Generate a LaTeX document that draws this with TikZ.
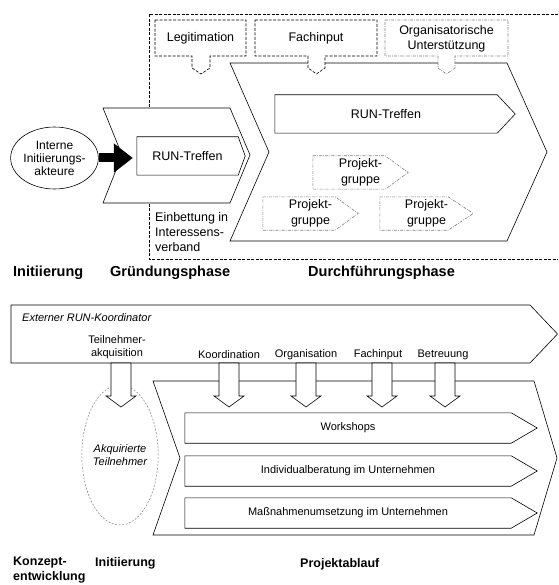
\documentclass[tikz,border=0pt]{standalone}
\usepackage{fontspec}
\setmainfont{Liberation Sans}
\usetikzlibrary{arrows.meta,shapes.geometric}

% Pfeilform um einen Knoten: Knick und Spitze relativ zu north east / east
\newcommand{\spitze}[4][]{%
  \draw[rand,#1] (#2.north west) -- ([xshift=#3]#2.north east) -- ([xshift=#4]#2.east)
    -- ([xshift=#3]#2.south east) -- (#2.south west) -- cycle;}

\begin{document}
\begin{tikzpicture}[x=1pt,y=-1pt,
    rand/.style={line width=0.6pt},
    box/.style={rand, fill=white},
    gestrichelt/.style={rand, dash pattern=on 3pt off 1.5pt, fill=white},
    grau/.style={draw=gray, line width=0.6pt, dash pattern=on 3pt off 1.2pt on 0.8pt off 1.2pt, fill=white},
    txt/.style={font=\fontsize{12.5}{15}\selectfont, align=center, inner sep=0pt},
    txtk/.style={font=\fontsize{11}{12.5}\selectfont, align=center, inner sep=0pt},
    phase/.style={font=\bfseries\fontsize{14.5}{17}\selectfont, anchor=west, inner sep=0pt},
    phasek/.style={font=\bfseries\fontsize{12.5}{15}\selectfont, anchor=west, align=left, inner sep=0pt},
  ]
\useasboundingbox (0,0) rectangle (558,585);

% oberes Bild: Gruendung und Durchfuehrung
\draw[rand, dash pattern=on 3pt off 1.5pt] (558,14) -- (149,14) -- (149,259) -- (558,259);
\draw[box] (230,63) -- (507,63) -- (547,152) -- (507,241) -- (230,241) -- (269,152) -- cycle;
\draw[box] (103,108) -- (230,108) -- (250,155) -- (230,203) -- (103,203) -- (122,155) -- cycle;

\draw[gestrichelt] (155,20) -- (246,20) -- (246,56) -- (210,56) -- (210,68) -- (201,74)
    -- (192,68) -- (192,56) -- (155,56) -- cycle;
\draw[gestrichelt] (255,20) -- (377,20) -- (377,56) -- (325,56) -- (325,68) -- (316.5,74)
    -- (308,68) -- (308,56) -- (255,56) -- cycle;
\draw[grau] (385,20) -- (508,20) -- (508,56) -- (455,56) -- (455,68) -- (446.5,74)
    -- (438,68) -- (438,56) -- (385,56) -- cycle;
\node[txt] (legit) at (200.5,38) {Legitimation};
\node[txt] (fach) at (316,38) {Fachinput};
\node[txt] (orga) at (446.5,39) {Organisatorische\\Unterstützung};

\node[txt, minimum width=101pt, minimum height=38pt] (runA) at (187.5,156) {RUN-Treffen};
\spitze{runA}{0pt}{7pt}
\node[txt, minimum width=222pt, minimum height=38pt] (runB) at (386,114) {RUN-Treffen};
\spitze{runB}{0pt}{18pt}

\node[txt, font=\fontsize{12.5}{16.5}\selectfont, minimum width=95pt, minimum height=33pt] (pg1) at (360.5,172.5) {Projekt-\\gruppe};
\spitze[grau, fill=none]{pg1}{-23pt}{0pt}
\node[txt, font=\fontsize{12.5}{16.5}\selectfont, minimum width=95pt, minimum height=33pt] (pg2) at (310.5,213.5) {Projekt-\\gruppe};
\spitze[grau, fill=none]{pg2}{-23pt}{0pt}
\node[txt, font=\fontsize{12.5}{16.5}\selectfont, minimum width=93pt, minimum height=33pt] (pg3) at (426.5,213.5) {Projekt-\\gruppe};
\spitze[grau, fill=none]{pg3}{-25pt}{0pt}

\node[ellipse, draw, rand, minimum width=70pt, minimum height=62pt, inner sep=0pt, align=center,
    font=\fontsize{12}{13}\selectfont] (akteure) at (54.5,158) {Interne\\Initiierungs-\\akteure};
\draw[line width=9pt, -{Triangle[length=19pt,width=28pt]}, shorten >=4pt]
    (akteure.east) -- (akteure.east -| runA.west);

\node[txt, align=left, anchor=west] (einb) at (155,232) {Einbettung in\\Interessens-\\verband};

\node[phase] (ph1) at (13,273) {Initiierung};
\node[phase] (ph2) at (110,273) {Gründungsphase};
\node[phase] (ph3) at (308,273) {Durchführungsphase};

% unteres Bild: Projektablauf
\draw[box] (11,305) -- (530,305) -- (557.5,334) -- (530,363) -- (11,363) -- cycle;
\node[txtk, anchor=west] (koord) at (22,318) {\itshape Externer RUN-Koordinator};
\node[txtk] (akq) at (117,347) {Teilnehmer-\\akquisition};
\node[txtk] (l1) at (229,355) {Koordination};
\node[txtk] (l2) at (306,355) {Organisation};
\node[txtk] (l3) at (378,355) {Fachinput};
\node[txtk] (l4) at (443,355) {Betreuung};

\draw[box] (153,381) -- (534,381) -- (557,458) -- (534,535) -- (153,535) -- (180,458) -- cycle;
\node[ellipse, draw=gray, line width=0.5pt, dash pattern=on 2pt off 1.5pt, minimum width=68pt,
    minimum height=140pt, inner sep=0pt, txtk] (teiln) at (120,455) {\itshape Akquirierte\\\itshape Teilnehmer};

\foreach \x in {121,229,306,382,445}
  \draw[box] (\x-10,363) -- (\x+10,363) -- (\x+10,396) -- (\x+15,396) -- (\x,407)
    -- (\x-15,396) -- (\x-10,396) -- cycle;

\node[txtk, minimum width=326pt, minimum height=30pt] (ws) at (348,428) {Workshops};
\spitze{ws}{0pt}{26pt}
\node[txtk, minimum width=326pt, minimum height=30pt] (ib) at (348,471) {Individualberatung im Unternehmen};
\spitze{ib}{0pt}{26pt}
\node[txtk, minimum width=326pt, minimum height=30pt] (mn) at (348,513) {Maßnahmenumsetzung im Unternehmen};
\spitze{mn}{0pt}{26pt}

\node[phasek] (ph4) at (13,570) {Konzept-\\entwicklung};
\node[phasek] (ph5) at (95,563) {Initiierung};
\node[phasek] (ph6) at (300,564) {Projektablauf};
\end{tikzpicture}
\end{document}
